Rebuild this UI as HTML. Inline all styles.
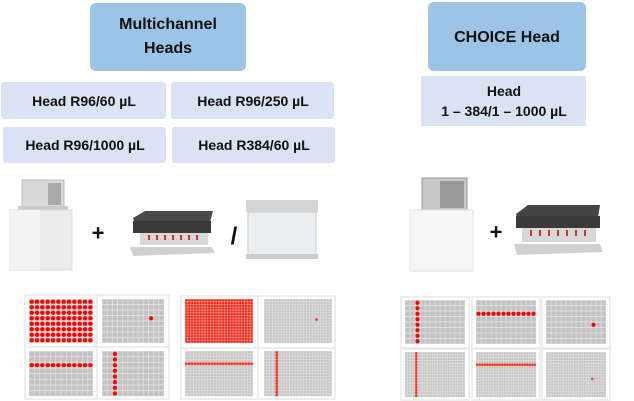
<!DOCTYPE html>
<html><head><meta charset="utf-8"><style>
html,body{margin:0;padding:0;background:#fff;width:634px;height:401px;overflow:hidden}
svg{display:block}
text{font-family:"Liberation Sans",sans-serif}
</style></head><body>
<svg width="634" height="401" viewBox="0 0 634 401" xmlns="http://www.w3.org/2000/svg">
<defs>
<pattern id="g96" patternUnits="userSpaceOnUse" width="5" height="5.5"><rect width="5" height="5.5" fill="#e4e4e4"/><rect x="0.4" y="0.4" width="4.3" height="4.7" fill="#c3c3c3"/></pattern>
<pattern id="g384" patternUnits="userSpaceOnUse" width="2.5" height="2.75"><rect width="2.5" height="2.75" fill="#e4e4e4"/><rect x="0.3" y="0.3" width="2" height="2.2" fill="#c6c6c6"/></pattern>
<pattern id="r96" patternUnits="userSpaceOnUse" width="5" height="5.5"><circle cx="2.5" cy="2.75" r="2.1" fill="#f00"/></pattern>
<pattern id="r384" patternUnits="userSpaceOnUse" width="2.5" height="2.75"><rect x="0.2" y="0.2" width="2.1" height="2.35" fill="#f21"/></pattern>
</defs>

<rect x="90" y="3" width="156" height="68" rx="6" fill="#9dc3e6"/>
<text x="168" y="29" font-size="16" font-weight="bold" text-anchor="middle" fill="#111">Multichannel</text>
<text x="168" y="53" font-size="16" font-weight="bold" text-anchor="middle" fill="#111">Heads</text>
<rect x="428" y="2" width="158" height="69" rx="6" fill="#9dc3e6"/>
<text x="507" y="42" font-size="16" font-weight="bold" text-anchor="middle" fill="#111">CHOICE Head</text>

<g fill="#dae3f3">
<rect x="1" y="82" width="165" height="37" rx="3"/>
<rect x="171" y="82" width="163" height="37" rx="3"/>
<rect x="3" y="127" width="163" height="36" rx="3"/>
<rect x="172" y="127" width="163" height="36" rx="3"/>
<rect x="421" y="76" width="165" height="50"/>
</g>
<g font-size="14" font-weight="bold" text-anchor="middle" fill="#111">
<text x="84" y="106">Head R96/60 µL</text>
<text x="253" y="106">Head R96/250 µL</text>
<text x="85" y="150">Head R96/1000 µL</text>
<text x="254" y="150">Head R384/60 µL</text>
<text x="504" y="96">Head</text>
<text x="504" y="116">1 – 384/1 – 1000 µL</text>
</g>

<!-- devices left -->
<rect x="22" y="180" width="42" height="28" fill="#d8d8d8" stroke="#bbb"/>
<rect x="48" y="183" width="13" height="22" fill="#aaa"/>
<rect x="18" y="206" width="50" height="5" fill="#c9c9c9"/>
<rect x="10" y="210" width="62" height="60" fill="#ececec" stroke="#ddd"/>
<rect x="10" y="210" width="30" height="60" fill="#f3f3f3"/>
<text x="98" y="233" font-size="22" font-weight="bold" text-anchor="middle" dominant-baseline="central" fill="#111">+</text>
<polygon points="133,218 145,211 213,211 210,222 136,227" fill="#4a4a4a"/>
<rect x="133" y="221" width="78" height="12" fill="#3a3a3a"/>
<rect x="140" y="233" width="68" height="12" fill="#d8d8d8"/>
<g fill="#c33"><rect x="148" y="235" width="2" height="5"/><rect x="156" y="235" width="2" height="5"/><rect x="164" y="235" width="2" height="5"/><rect x="172" y="235" width="2" height="5"/><rect x="180" y="235" width="2" height="5"/><rect x="188" y="235" width="2" height="5"/><rect x="196" y="235" width="2" height="5"/></g>
<polygon points="130,247 212,247 215,253 133,256" fill="#d0d0d0"/>
<text x="234" y="244" font-size="24" font-weight="bold" text-anchor="middle" fill="#111">/</text>
<rect x="246" y="200" width="72" height="12" fill="#d4d4d4"/>
<rect x="248" y="212" width="68" height="43" fill="#ebeef0" stroke="#ccc"/>
<rect x="246" y="254" width="72" height="5" fill="#ccc"/>

<!-- devices right -->
<rect x="422" y="178" width="45" height="32" fill="#c8c8c8" stroke="#999"/>
<rect x="440" y="181" width="24" height="27" fill="#9a9a9a"/>
<rect x="410" y="210" width="63" height="61" fill="#f6f6f6" stroke="#e2e2e2"/>
<text x="496" y="232" font-size="22" font-weight="bold" text-anchor="middle" dominant-baseline="central" fill="#111">+</text>
<polygon points="516,214 528,205 600,205 598,218 518,222" fill="#444"/>
<rect x="516" y="216" width="84" height="12" fill="#3a3a3a"/>
<rect x="522" y="228" width="74" height="14" fill="#d8d8d8"/>
<g fill="#c33"><rect x="530" y="230" width="2" height="6"/><rect x="539" y="230" width="2" height="6"/><rect x="548" y="230" width="2" height="6"/><rect x="557" y="230" width="2" height="6"/><rect x="566" y="230" width="2" height="6"/><rect x="575" y="230" width="2" height="6"/><rect x="584" y="230" width="2" height="6"/></g>
<polygon points="514,244 600,244 603,252 517,255" fill="#d0d0d0"/>

<g fill="none" stroke="#e8e8e8" stroke-width="1.5">
<rect x="25" y="295" width="144" height="104"/><line x1="97" y1="295" x2="97" y2="399"/><line x1="25" y1="347" x2="169" y2="347"/>
<rect x="181" y="296" width="154" height="103"/><line x1="258" y1="296" x2="258" y2="399"/><line x1="181" y1="348" x2="335" y2="348"/>
<rect x="401" y="297" width="68" height="51"/><rect x="472" y="297" width="68" height="51"/><rect x="542" y="297" width="68" height="51"/>
<rect x="401" y="349" width="68" height="51"/><rect x="472" y="349" width="68" height="51"/><rect x="542" y="349" width="68" height="51"/>
</g>

<g transform="translate(29,299) scale(1.067,1)"><rect width="60" height="44" fill="url(#g96)"/><rect width="60" height="44" fill="url(#r96)"/></g>
<g transform="translate(102,299) scale(1.033,1)"><rect width="60" height="44" fill="url(#g96)"/><rect x="45" y="16.5" width="5" height="5.5" fill="url(#r96)"/></g>
<g transform="translate(29,351) scale(1.067,1.03)"><rect width="60" height="44" fill="url(#g96)"/><rect y="11" width="60" height="5.5" fill="url(#r96)"/></g>
<g transform="translate(102,351) scale(1.033,1.03)"><rect width="60" height="44" fill="url(#g96)"/><rect x="10" width="5" height="44" fill="url(#r96)"/></g>
<g transform="translate(185,299) scale(1.133,1)"><rect width="60" height="44" fill="url(#g384)"/><rect width="60" height="44" fill="url(#r384)"/></g>
<g transform="translate(264,299) scale(1.133,1)"><rect width="60" height="44" fill="url(#g384)"/><rect x="45" y="19.25" width="2.5" height="2.75" fill="url(#r384)"/></g>
<g transform="translate(185,351) scale(1.133,1.03)"><rect width="60" height="44" fill="url(#g384)"/><rect y="11" width="60" height="2.75" fill="url(#r384)"/></g>
<g transform="translate(264,351) scale(1.133,1.03)"><rect width="60" height="44" fill="url(#g384)"/><rect x="10" width="2.5" height="44" fill="url(#r384)"/></g>
<g transform="translate(405,300)"><rect width="60" height="44" fill="url(#g96)"/><rect x="10" width="5" height="44" fill="url(#r96)"/></g>
<g transform="translate(476,300)"><rect width="60" height="44" fill="url(#g96)"/><rect y="11" width="60" height="5.5" fill="url(#r96)"/></g>
<g transform="translate(546,300)"><rect width="60" height="44" fill="url(#g96)"/><rect x="45" y="22" width="5" height="5.5" fill="url(#r96)"/></g>
<g transform="translate(405,352) scale(1,1.03)"><rect width="60" height="44" fill="url(#g384)"/><rect x="10" width="2.5" height="44" fill="url(#r384)"/></g>
<g transform="translate(476,352) scale(1,1.03)"><rect width="60" height="44" fill="url(#g384)"/><rect y="11" width="60" height="2.75" fill="url(#r384)"/></g>
<g transform="translate(546,352) scale(1,1.03)"><rect width="60" height="44" fill="url(#g384)"/><rect x="45" y="24.75" width="2.5" height="2.75" fill="url(#r384)"/></g>
</svg>
</body></html>
